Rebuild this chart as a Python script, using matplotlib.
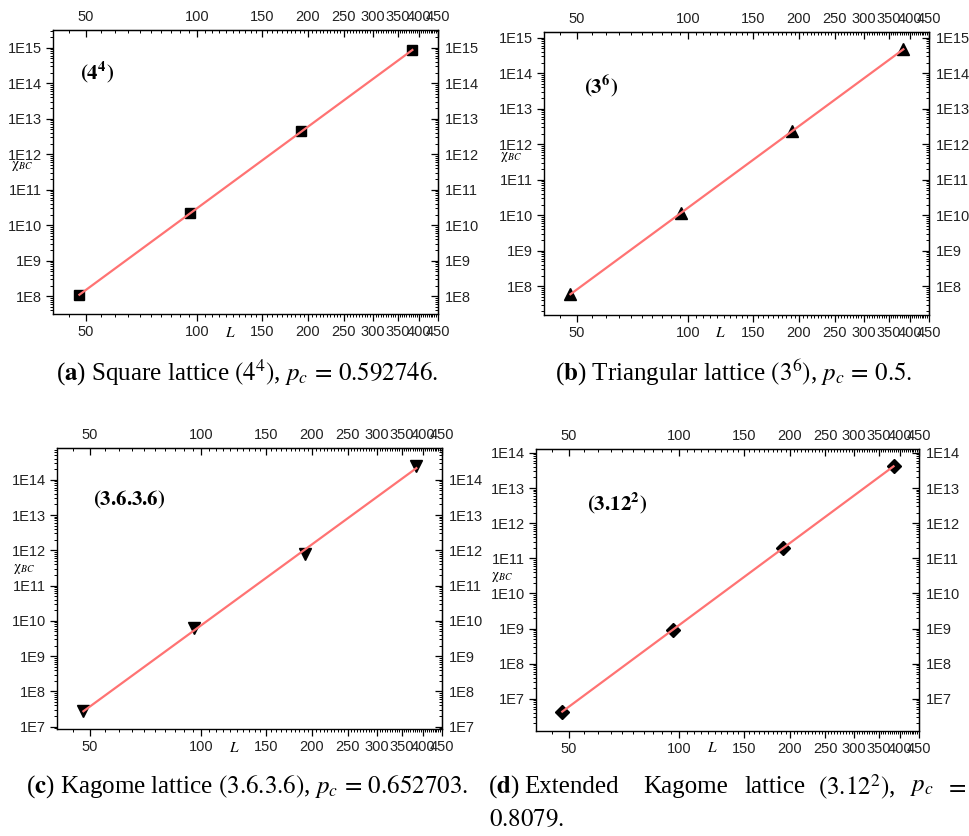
import numpy as np
import matplotlib
matplotlib.use('Agg')
import matplotlib.pyplot as plt
from matplotlib.ticker import FixedLocator, FuncFormatter, LogLocator, NullFormatter

plt.rcParams['mathtext.fontset'] = 'stix'
plt.rcParams['font.family'] = ['Liberation Sans', 'DejaVu Sans']

# data
L = [48, 96, 192, 384]
chi_square = [1.1e8, 2.2e10, 4.4e12, 8.6e14]
chi_triangular = [6.0e7, 1.16e10, 2.4e12, 4.7e14]
chi_kagome = [2.8e7, 6.1e9, 8.0e11, 2.5e14]
chi_ext_kagome = [4.3e6, 9.3e8, 1.97e11, 4.1e13]

x_major = [50, 100, 150, 200, 250, 300, 350, 400, 450]
x_minor = [v for v in range(45, 450, 5) if v not in x_major]
x_lim = (40.7, 450.6)

W, H = 970, 836
LINE_COLOR = '#ff7373'
SERIF = ['Liberation Serif', 'DejaVu Serif']
TICK_FS = 10.5


def px(x, y):
    return x / W, 1 - y / H


def rect(left, top, right, bottom):
    return [left / W, 1 - bottom / H, (right - left) / W, (bottom - top) / H]


def exp_label(v, pos):
    return '1E{}'.format(int(round(np.log10(v))))


def int_label(v, pos):
    return '{:d}'.format(int(round(v)))


def draw_panel(fig, box, chi, marker, ms, ylim, tag, tag_xy, chi_xy, l_xy):
    ax = fig.add_axes(box)
    ax.set_xscale('log')
    ax.set_yscale('log')

    # fitted power law drawn over the symbols
    slope, icpt = np.polyfit(np.log10(L), np.log10(chi), 1)
    fit = 10 ** (icpt + slope * np.log10(L))
    ax.plot(L, chi, linestyle='none', marker=marker, ms=ms, color='black',
            zorder=2)
    ax.plot(L, fit, color=LINE_COLOR, lw=1.6, zorder=3)

    ax.set_xlim(*x_lim)
    ax.set_ylim(*ylim)

    for sp in ax.spines.values():
        sp.set_linewidth(1.0)

    ax.xaxis.set_major_locator(FixedLocator(x_major))
    ax.xaxis.set_minor_locator(FixedLocator(x_minor))
    ax.xaxis.set_major_formatter(FuncFormatter(int_label))
    ax.xaxis.set_minor_formatter(NullFormatter())
    ax.yaxis.set_major_locator(LogLocator(base=10, numticks=20))
    ax.yaxis.set_minor_locator(LogLocator(base=10, subs=np.arange(2, 10), numticks=20))
    ax.yaxis.set_major_formatter(FuncFormatter(exp_label))
    ax.yaxis.set_minor_formatter(NullFormatter())
    ax.tick_params(which='major', direction='out', length=5, width=0.9,
                   labelsize=TICK_FS, labelcolor='#222222', pad=3)
    ax.tick_params(which='minor', direction='out', length=2.5, width=0.7)

    # mirrored axes: ticks point inward, labels outside
    top = ax.secondary_xaxis('top')
    top.xaxis.set_major_locator(FixedLocator(x_major))
    top.xaxis.set_minor_locator(FixedLocator(x_minor))
    top.xaxis.set_major_formatter(FuncFormatter(int_label))
    top.xaxis.set_minor_formatter(NullFormatter())
    top.tick_params(which='major', direction='in', length=5, width=0.9,
                    labelsize=TICK_FS, labelcolor='#222222', pad=4)
    top.tick_params(which='minor', direction='in', length=2.5, width=0.7)

    right = ax.secondary_yaxis('right')
    right.yaxis.set_major_locator(LogLocator(base=10, numticks=20))
    right.yaxis.set_minor_locator(LogLocator(base=10, subs=np.arange(2, 10), numticks=20))
    right.yaxis.set_major_formatter(FuncFormatter(exp_label))
    right.yaxis.set_minor_formatter(NullFormatter())
    right.tick_params(which='major', direction='in', length=5, width=0.9,
                      labelsize=TICK_FS, labelcolor='#222222', pad=5)
    right.tick_params(which='minor', direction='in', length=2.5, width=0.7)

    fig.text(*px(*tag_xy), tag, ha='center', va='center', fontsize=15,
             family=SERIF)
    fig.text(*px(*chi_xy), r'$\mathrm{\chi}_{\mathit{BC}}$', ha='center',
             va='center', fontsize=10, family=SERIF)
    fig.text(*px(*l_xy), r'$L$', ha='center', va='center', fontsize=11,
             family=SERIF)
    return ax


fig = plt.figure(figsize=(W / 100, H / 100), dpi=100)

draw_panel(fig, rect(53, 30, 438, 314), chi_square, 's', 6.5,
           (10 ** 7.5, 10 ** 15.5), r'$\mathbf{(4^4)}$',
           (97, 72), (22, 166), (230, 333))
draw_panel(fig, rect(544, 32, 929, 315), chi_triangular, '^', 9,
           (10 ** 7.19, 10 ** 15.16), r'$\mathbf{(3^6)}$',
           (601, 87), (511, 157), (720, 333))
draw_panel(fig, rect(57, 448, 442, 729), chi_kagome, 'v', 9,
           (10 ** 6.935, 10 ** 14.9), r'$\mathbf{(3.6.3.6)}$',
           (129, 500), (24, 569), (234, 748))
draw_panel(fig, rect(536, 449, 919, 731), chi_ext_kagome, 'D', 7.5,
           (10 ** 6.086, 10 ** 14.11), r'$\mathbf{(3.12^2)}$',
           (617, 503), (502, 577), (712, 748))

cap_kw = dict(fontsize=18, family=SERIF, va='center')
fig.text(*px(247, 373),
         r'($\mathbf{a}$) Square lattice $\left(4^4\right)$, $p_c\,=\,0.592746.$',
         ha='center', **cap_kw)
fig.text(*px(734, 373),
         r'($\mathbf{b}$) Triangular lattice $\left(3^6\right)$, $p_c\,=\,0.5.$',
         ha='center', **cap_kw)
fig.text(*px(247, 787),
         r'($\mathbf{c}$) Kagome lattice $(3.6.3.6)$, $p_c\,=\,0.652703.$',
         ha='center', **cap_kw)

# justified first line of caption (d)
words_d = [(488, r'($\mathbf{d}$)'), (524, 'Extended'), (643, 'Kagome'),
           (744, 'lattice'), (818, r'$\left(3.12^2\right)$,'),
           (910, r'$p_c$'), (945, r'$=$')]
for xw, w in words_d:
    fig.text(*px(xw, 787), w, ha='left', **cap_kw)
fig.text(*px(489, 820), r'$0.8079.$', ha='left', **cap_kw)

fig.savefig('out.png', dpi=100)
